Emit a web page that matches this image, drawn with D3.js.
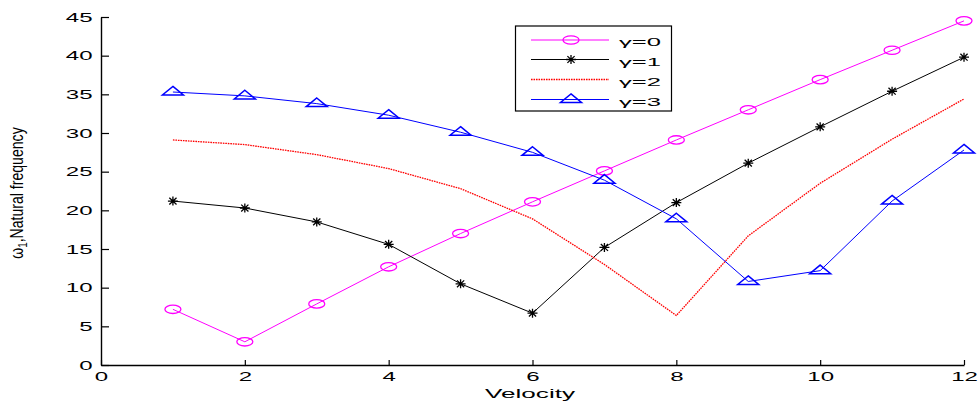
<!DOCTYPE html>
<html>
<head>
<meta charset="utf-8">
<script src="https://cdn.jsdelivr.net/npm/d3@7"></script>
<style>
  html, body { margin: 0; padding: 0; background: #fff; }
  svg { display: block; }
  text { font-family: "Liberation Sans", Arial, Helvetica, sans-serif; fill: #000; }
</style>
</head>
<body>
<svg id="chart" width="978" height="407"></svg>
<script>
// ---- data ----
const velocity = [1, 2, 3, 4, 5, 6, 7, 8, 9, 10, 11, 12];
const gamma0 = [7.2, 3.0, 7.9, 12.7, 17.0, 21.1, 25.1, 29.1, 33.0, 36.9, 40.7, 44.5];
const gamma1 = [21.2, 20.3, 18.5, 15.6, 10.5, 6.7, 15.2, 21.0, 26.1, 30.8, 35.4, 39.8];
const gamma2 = [29.1, 28.5, 27.2, 25.4, 22.8, 18.9, 13.0, 6.4, 16.7, 23.5, 29.2, 34.4];
const gamma3 = [35.3, 34.8, 33.8, 32.3, 30.1, 27.5, 23.9, 18.9, 10.8, 12.2, 21.2, 27.8];
const seriesNames = ["\u03B3=0", "\u03B3=1", "\u03B3=2", "\u03B3=3"];
const xTicks = [0, 2, 4, 6, 8, 10, 12];
const yTicks = [0, 5, 10, 15, 20, 25, 30, 35, 40, 45];

const series = [
  { name: seriesNames[0], values: gamma0, color: "#ff00ff", marker: "circle", dash: null },
  { name: seriesNames[1], values: gamma1, color: "#000000", marker: "star", dash: null },
  { name: seriesNames[2], values: gamma2, color: "#ff0000", marker: "none", dash: "1.6,0.9" },
  { name: seriesNames[3], values: gamma3, color: "#0000ff", marker: "triangle", dash: null }
];

const svg = d3.select("#chart");
const x = d3.scaleLinear().domain([0, 12]).range([101, 964]);
const y = d3.scaleLinear().domain([0, 45]).range([365, 17]);
const SX = 1.85; // horizontal stretch of tick labels

// ---- axes ----
const gx = svg.append("g").attr("transform", `translate(0,${y(0)})`)
  .call(d3.axisBottom(x).tickValues(xTicks).tickSizeInner(-5).tickSizeOuter(0).tickPadding(7));
const gy = svg.append("g").attr("transform", `translate(${x(0)},0)`)
  .call(d3.axisLeft(y).tickValues(yTicks).tickSizeInner(-8).tickSizeOuter(0));

[gx, gy].forEach(g => {
  g.select(".domain").attr("stroke", "#000").attr("stroke-width", 1.4);
  g.selectAll(".tick line").attr("stroke", "#000").attr("stroke-width", 1.2);
  g.selectAll(".tick text").attr("font-size", 13).attr("font-family", "'Liberation Sans', Arial, sans-serif").attr("fill", "#000");
});
gx.selectAll(".tick text").attr("transform", `scale(${SX},1)`);
gy.selectAll(".tick text").attr("x", -8.5 / SX).attr("transform", `scale(${SX},1)`);

// ---- axis titles ----
svg.append("text")
  .attr("x", 530).attr("y", 398)
  .attr("text-anchor", "middle")
  .attr("font-size", 12)
  .attr("textLength", 90).attr("lengthAdjust", "spacingAndGlyphs")
  .text("Velocity");

const yl = svg.append("text")
  .attr("transform", "translate(23,193) rotate(-90) scale(0.88,1.2)")
  .attr("text-anchor", "middle")
  .attr("font-size", 16);
yl.append("tspan").text("\u03C9");
yl.append("tspan").attr("font-size", 11).attr("dy", 3).text("1");
yl.append("tspan").attr("dy", -3).text(",Natural frequency");

// ---- lines ----
const line = d3.line().x((d, i) => x(velocity[i])).y(d => y(d));
series.forEach(s => {
  svg.append("path")
    .datum(s.values)
    .attr("fill", "none")
    .attr("stroke", s.color)
    .attr("stroke-width", s.dash ? 1.3 : 1)
    .attr("stroke-dasharray", s.dash)
    .attr("d", line);
});

// ---- markers ----
function drawMarker(g, type, color) {
  if (type === "circle") {
    g.append("ellipse").attr("rx", 8).attr("ry", 4.2)
      .attr("fill", "none").attr("stroke", color).attr("stroke-width", 1.3);
  } else if (type === "star") {
    const p = "M-5,0L5,0M0,-4.5L0,4.5M-3.6,-3.4L3.6,3.4M-3.6,3.4L3.6,-3.4";
    g.append("path").attr("d", p).attr("stroke", color).attr("stroke-width", 1.3).attr("fill", "none");
  } else if (type === "triangle") {
    g.append("path").attr("d", "M0,-5.6L10.5,3L-10.5,3Z")
      .attr("fill", "none").attr("stroke", color).attr("stroke-width", 1.5);
  }
}
series.forEach(s => {
  if (s.marker === "none") return;
  s.values.forEach((v, i) => {
    const g = svg.append("g").attr("transform", `translate(${x(velocity[i])},${y(v)})`);
    drawMarker(g, s.marker, s.color);
  });
});

// ---- legend ----
const lg = svg.append("g");
lg.append("rect").attr("x", 515.5).attr("y", 26).attr("width", 156).attr("height", 85)
  .attr("fill", "#fff").attr("stroke", "#000").attr("stroke-width", 1.2);
const rowY = [40, 59.5, 79.5, 99.5];
series.forEach((s, i) => {
  const ry = rowY[i];
  lg.append("line").attr("x1", 531).attr("x2", 609).attr("y1", ry).attr("y2", ry)
    .attr("stroke", s.color).attr("stroke-width", s.dash ? 1.3 : 1.1).attr("stroke-dasharray", s.dash);
  if (s.marker !== "none") {
    const g = lg.append("g").attr("transform", `translate(571,${ry})`);
    drawMarker(g, s.marker, s.color);
  }
  lg.append("text").attr("x", 619).attr("y", ry + 6)
    .attr("font-size", 11)
    .attr("textLength", 42).attr("lengthAdjust", "spacingAndGlyphs")
    .text(s.name);
});
</script>
</body>
</html>
